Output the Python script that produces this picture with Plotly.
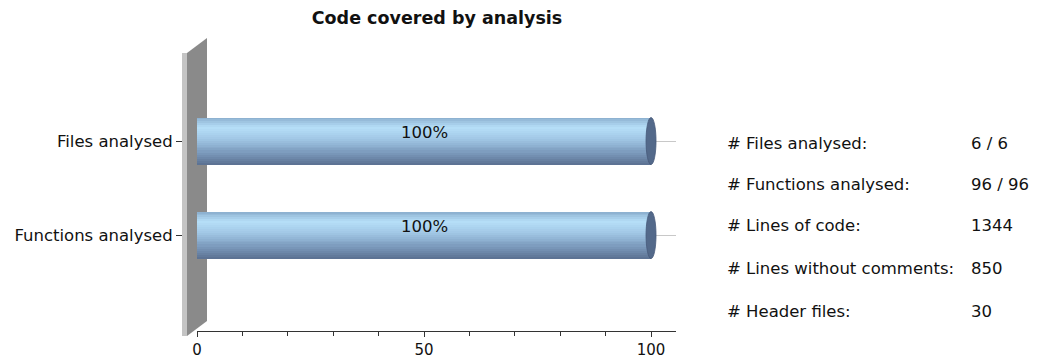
import plotly.graph_objects as go

# ---- data -------------------------------------------------------------
categories = ["Files analysed", "Functions analysed"]
coverage = [100, 100]

stat_labels = ["# Files analysed:", "# Functions analysed:", "# Lines of code:",
               "# Lines without comments:", "# Header files:"]
stat_values = ["6 / 6", "96 / 96", "1344", "850", "30"]

x_ticks = [0, 50, 100]

# ---- styling ----------------------------------------------------------
FONT = "DejaVu Sans"
FS = 16.5
W, H = 1040, 360
ML, MR, MT, MB = 182, 364, 47, 29          # plot area: x 182..676, y 47..331
PW, PH = W - ML - MR, H - MT - MB
X0 = 197                                   # pixel where the value axis starts
BAR_W = 0.5
N_STRIPES = 24

# top -> bottom colour profile of the cylinder
stops = [(0.0, (0x8a, 0xad, 0xcd)), (0.22, (0xb6, 0xdf, 0xf8)),
         (0.45, (0xa2, 0xc8, 0xe6)), (0.72, (0x7f, 0x9f, 0xc1)),
         (1.0, (0x5a, 0x70, 0x90))]


def shade(t):
    for (t0, c0), (t1, c1) in zip(stops, stops[1:]):
        if t <= t1:
            f = (t - t0) / (t1 - t0)
            return "rgb(%d,%d,%d)" % tuple(round(a + (b - a) * f) for a, b in zip(c0, c1))
    return "rgb(%d,%d,%d)" % stops[-1][1]


def px_to_paper(px, py):
    return (px - ML) / PW, (MT + PH - py) / PH


fig = go.Figure()

# cylinder body built from thin horizontal stripes
sw = BAR_W / N_STRIPES
for k in range(N_STRIPES):
    fig.add_trace(go.Bar(
        y=categories, x=coverage, orientation="h",
        width=sw * 1.02, offset=-BAR_W / 2 + k * sw,
        marker=dict(color=shade((k + 0.5) / N_STRIPES), line=dict(width=0)),
        hoverinfo="skip", showlegend=False,
    ))

# end caps of the cylinders and value labels
for i, (cat, v) in enumerate(zip(categories, coverage)):
    fig.add_shape(type="circle", xref="x", yref="y",
                  x0=v - 1.1, x1=v + 1.1, y0=i - BAR_W / 2, y1=i + BAR_W / 2,
                  fillcolor="#53698a", line=dict(color="#46597a", width=0.8),
                  layer="above")
    fig.add_annotation(x=v / 2, y=cat, text=f"{v}%", showarrow=False,
                       yshift=9, font=dict(family=FONT, size=FS, color="#111111"))

# 3D wall on the left side of the plot
wall_front = [(182, 53), (187, 53), (187, 336), (182, 336)]
wall_face = [(187, 53), (207, 38), (207, 321), (187, 336)]
for pts, col in ((wall_face, "#8a8a8a"), (wall_front, "#c4c4c4")):
    path = "M " + " L ".join("%f,%f" % px_to_paper(*p) for p in pts) + " Z"
    fig.add_shape(type="path", xref="paper", yref="paper", path=path,
                  fillcolor=col, line=dict(width=0), layer="below")

# statistics table on the right
row_y = [143, 184, 226, 268, 311]
for lab, val, py in zip(stat_labels, stat_values, row_y):
    xa, ya = px_to_paper(725, py)
    xb, _ = px_to_paper(969, py)
    fig.add_annotation(x=xa, y=ya, xref="paper", yref="paper", text=lab,
                       xanchor="left", yanchor="middle", showarrow=False,
                       font=dict(family=FONT, size=FS, color="#111111"))
    fig.add_annotation(x=xb, y=ya, xref="paper", yref="paper", text=val,
                       xanchor="left", yanchor="middle", showarrow=False,
                       font=dict(family=FONT, size=FS, color="#111111"))

fig.update_layout(
    width=W, height=H,
    margin=dict(l=ML, r=MR, t=MT, b=MB, autoexpand=False),
    paper_bgcolor="white", plot_bgcolor="white",
    barmode="overlay", bargap=0,
    title=dict(text="<b>Code covered by analysis</b>", x=437 / W, xanchor="center",
               y=1 - 18 / H, yanchor="middle", yref="container",
               font=dict(family=FONT, size=17.5, color="#111111")),
    font=dict(family=FONT, size=FS, color="#111111"),
    xaxis=dict(range=[0, 105.5], domain=[(X0 - ML) / PW, 1], tickvals=x_ticks,
               ticks="outside", ticklen=5, tickcolor="#333333", showline=True,
               linecolor="#333333", linewidth=1, showgrid=False, zeroline=False,
               automargin=False, ticklabelstandoff=0,
               minor=dict(dtick=10, ticks="outside", ticklen=4, tickcolor="#333333",
                          showgrid=False),
               tickfont=dict(family=FONT, size=15)),
    yaxis=dict(range=[2.02, -1.0], type="category", ticks="outside", ticklen=6,
               tickcolor="#333333", showline=False, showgrid=True,
               gridcolor="#c8c8c8", gridwidth=1, zeroline=False,
               anchor="free", position=0, automargin=False,
               tickfont=dict(family=FONT, size=FS)),
)

fig.write_html("out.html")
